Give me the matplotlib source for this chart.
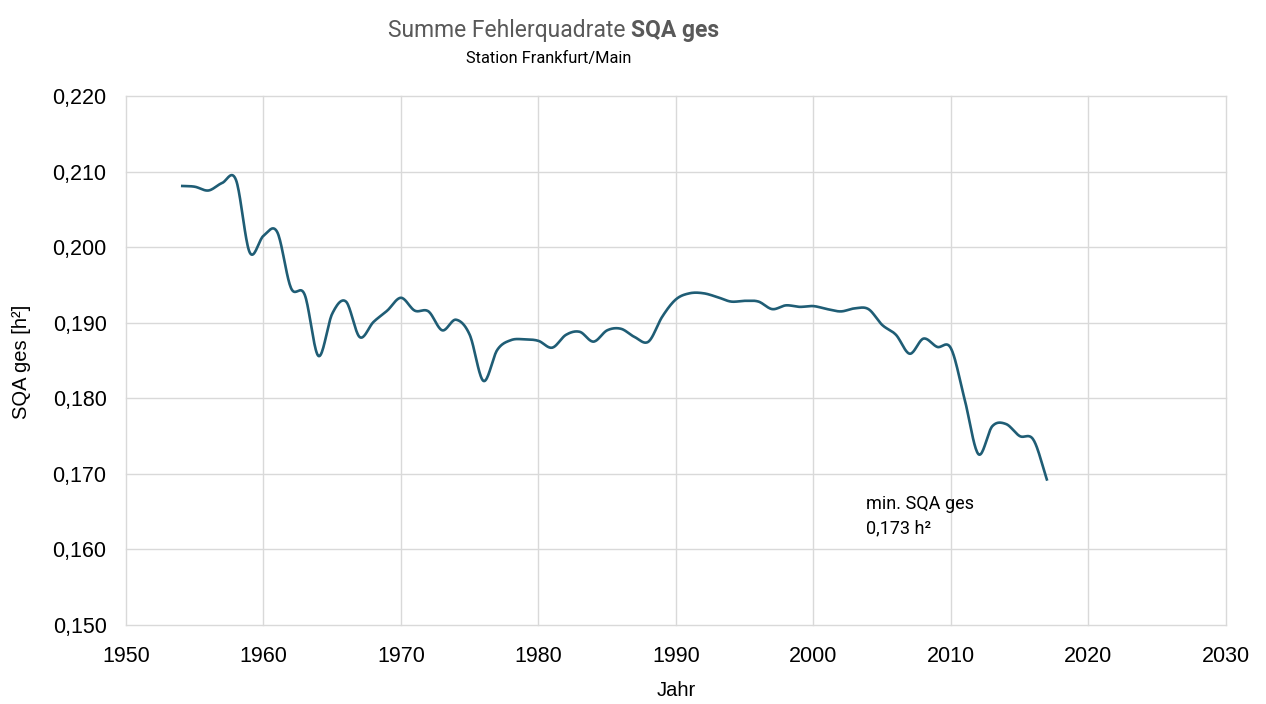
import numpy as np
import matplotlib
matplotlib.use("Agg")
import matplotlib.pyplot as plt

years = list(range(1954, 2018))
sqa = [0.2081, 0.2080, 0.2075, 0.2085, 0.2089, 0.1993, 0.2015, 0.2020, 0.1946, 0.1937,
       0.1856, 0.1912, 0.1928, 0.1881, 0.1901, 0.1916, 0.1933, 0.1916, 0.1915, 0.1890,
       0.1904, 0.1884, 0.1823, 0.1864, 0.1877, 0.1878, 0.1876, 0.1867, 0.1884, 0.1888,
       0.1875, 0.1890, 0.1892, 0.1881, 0.1875, 0.1908, 0.1931, 0.1939, 0.1939, 0.1934,
       0.1928, 0.1929, 0.1928, 0.1918, 0.1923, 0.1921, 0.1922, 0.1918, 0.1915, 0.1919,
       0.1918, 0.1897, 0.1884, 0.1859, 0.1879, 0.1868, 0.1866, 0.1798, 0.1726, 0.1763,
       0.1766, 0.1750, 0.1745, 0.1691]
xticks = [1950, 1960, 1970, 1980, 1990, 2000, 2010, 2020, 2030]
yticks = [0.150, 0.160, 0.170, 0.180, 0.190, 0.200, 0.210, 0.220]


def smooth(x, y, n=20):
    # Catmull-Rom spline rendering (like a "smoothed line" chart style)
    x = np.asarray(x, float); y = np.asarray(y, float)
    px = np.concatenate([[2 * x[0] - x[1]], x, [2 * x[-1] - x[-2]]])
    py = np.concatenate([[2 * y[0] - y[1]], y, [2 * y[-1] - y[-2]]])
    xs, ys = [], []
    t = np.linspace(0, 1, n, endpoint=False)
    for i in range(1, len(px) - 2):
        for P, out in ((px, xs), (py, ys)):
            p0, p1, p2, p3 = P[i - 1], P[i], P[i + 1], P[i + 2]
            m1 = (p2 - p0) / 2; m2 = (p3 - p1) / 2
            h00 = 2 * t**3 - 3 * t**2 + 1; h10 = t**3 - 2 * t**2 + t
            h01 = -2 * t**3 + 3 * t**2; h11 = t**3 - t**2
            out.extend(h00 * p1 + h10 * m1 + h01 * p2 + h11 * m2)
    xs.append(x[-1]); ys.append(y[-1])
    return np.array(xs), np.array(ys)


W, H = 1266, 704
fig = plt.figure(figsize=(W / 100, H / 100), dpi=100)
ax = fig.add_axes([0.0995, 0.1122, 0.8689, 0.7514])

sx, sy = smooth(years, sqa)
ax.plot(sx, sy, color="#1F5D75", lw=1.9, solid_capstyle="butt")

ax.set_xlim(1950, 2030)
ax.set_ylim(0.150, 0.220)
ax.set_xticks(xticks)
ax.set_yticks(yticks)
ax.set_xticklabels([str(v) for v in xticks], fontsize=15.5, family="Liberation Sans")
ax.set_yticklabels([f"{v:.3f}".replace(".", ",") for v in yticks], fontsize=15.5, family="Liberation Sans")
ax.tick_params(axis="x", length=0, pad=15)
ax.tick_params(axis="y", length=0, pad=14)
for s in ax.spines.values():
    s.set_visible(False)
ax.grid(True, color="#D9D9D9", lw=1)
for gl in ax.get_xgridlines() + ax.get_ygridlines():
    gl.set_clip_on(False)
ax.set_axisbelow(True)

fig.text(676 / W, 1 - 690 / H, "Jahr", ha="center", va="center",
         fontsize=14.5, family="Liberation Sans")
fig.text(22 / W, 1 - 362 / H, "SQA ges [h²]", ha="center", va="center", rotation=90,
         fontsize=14.5, family="Liberation Sans")

fig.text(626 / W, 1 - 31 / H, "Summe Fehlerquadrate", ha="right", va="center",
         fontsize=16.5, color="#595959", family="Roboto")
fig.text(631 / W, 1 - 31 / H, "SQA ges", ha="left", va="center",
         fontsize=16.5, color="#595959", family="Roboto", fontweight="bold")
fig.text(549 / W, 1 - 58 / H, "Station Frankfurt/Main", ha="center", va="center",
         fontsize=11.8, color="#000000", family="Roboto")

ax.text(2003.8, 0.1644, "min. SQA ges\n0,173 h²", fontsize=13, family="Roboto",
        va="center", ha="left", linespacing=1.45)

fig.savefig("out.png", dpi=100)
